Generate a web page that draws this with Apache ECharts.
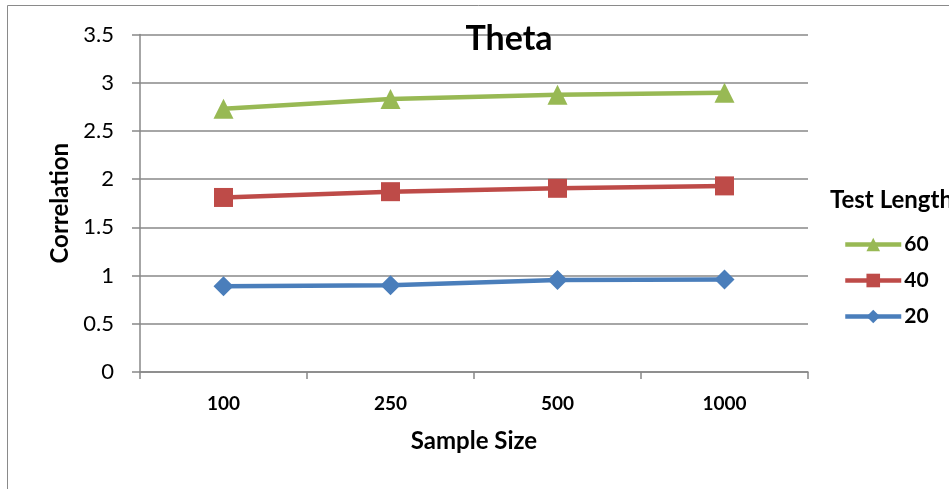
<!DOCTYPE html>
<html>
<head>
<meta charset="utf-8">
<script src="https://cdn.jsdelivr.net/npm/echarts@6/dist/echarts.min.js"></script>
<style>
  html, body { margin: 0; padding: 0; background: #fff; }
  #chart { width: 949px; height: 489px; }
</style>
</head>
<body>
<div id="chart"></div>
<script>
// data
const sampleSizes = ['100', '250', '500', '1000'];
const len20 = [0.89, 0.90, 0.955, 0.96];
const len40 = [1.81, 1.87, 1.905, 1.93];
const len60 = [2.73, 2.83, 2.875, 2.895];
const yTicks = [0, 0.5, 1, 1.5, 2, 2.5, 3, 3.5];

const font = 'Lato, "Open Sans", sans-serif';
const gridColor = '#888888';

const chart = echarts.init(document.getElementById('chart'));

const mkSeries = (name, data, color, symbol, size) => ({
  name: name,
  type: 'line',
  data: data,
  symbol: symbol,
  symbolSize: size,
  lineStyle: { color: color, width: 4.5 },
  itemStyle: { color: color },
  emphasis: { disabled: true },
  animation: false
});

chart.setOption({
  backgroundColor: '#fff',
  animation: false,
  title: [
    {
      text: 'Theta',
      left: 504, top: 17,
      textAlign: 'center',
      textStyle: { fontFamily: font, fontSize: 34, fontWeight: 'bold', color: '#000' }
    },
    {
      text: 'Test Length',
      left: 825, top: 183,
      textStyle: { fontFamily: font, fontSize: 24, fontWeight: 'bold', color: '#000' }
    }
  ],
  graphic: [{
    type: 'rect',
    shape: { x: 7.5, y: 5.5, width: 1000, height: 600 },
    style: { fill: 'none', stroke: '#8a8a8a', lineWidth: 1 },
    silent: true
  }],
  legend: {
    data: ['60', '40', '20'],
    orient: 'vertical',
    left: 838, top: 229,
    itemWidth: 56, itemHeight: 17,
    itemGap: 15,
    lineStyle: { width: 4.5 },
    textStyle: { fontFamily: font, fontSize: 21, fontWeight: 'bold', color: '#000', padding: [0, 0, 0, -2] }
  },
  grid: { left: 140, right: 141, top: 34.5, bottom: 117 },
  xAxis: {
    type: 'category',
    data: sampleSizes,
    boundaryGap: true,
    name: 'Sample Size',
    nameLocation: 'middle',
    nameGap: 57,
    nameTextStyle: { fontFamily: font, fontSize: 24, fontWeight: 'bold', color: '#000' },
    axisLine: { lineStyle: { color: gridColor, width: 1.5 } },
    axisTick: { show: true, length: 7, alignWithLabel: false, lineStyle: { color: gridColor, width: 1.5 } },
    axisLabel: { fontFamily: font, fontSize: 19, fontWeight: 'bold', color: '#000', margin: 22 }
  },
  yAxis: {
    type: 'value',
    min: yTicks[0],
    max: yTicks[yTicks.length - 1],
    interval: 0.5,
    name: 'Correlation',
    nameLocation: 'middle',
    nameGap: 68,
    nameTextStyle: { fontFamily: font, fontSize: 24, fontWeight: 'bold', color: '#000' },
    axisLine: { show: true, lineStyle: { color: gridColor, width: 1.5 } },
    axisTick: { show: true, length: 8, lineStyle: { color: gridColor, width: 1.5 } },
    axisLabel: { fontFamily: font, fontSize: 22, color: '#000', margin: 26 },
    splitLine: { lineStyle: { color: gridColor, width: 1.5 } }
  },
  series: [
    mkSeries('20', len20, '#4a7ebb', 'diamond', 20),
    mkSeries('40', len40, '#be4b48', 'rect', 19),
    mkSeries('60', len60, '#98b954', 'triangle', 20)
  ]
});
</script>
</body>
</html>
